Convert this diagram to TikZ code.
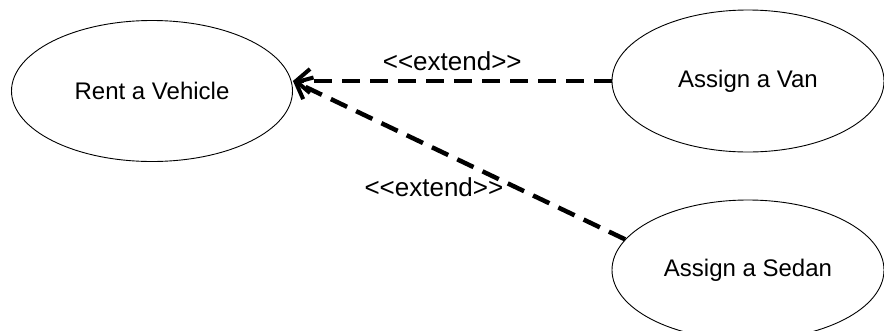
\documentclass[tikz,border=0pt]{standalone}
\usepackage{fontspec}
\setmainfont{Liberation Sans}
\usetikzlibrary{arrows.meta,shapes.geometric}

\begin{document}
\begin{tikzpicture}[x=1pt,y=-1pt,font=\fontsize{24}{28}\selectfont,
  usecase/.style={ellipse,draw,line width=0.9pt,inner sep=0pt},
  extlabel/.style={font=\fontsize{26}{30}\selectfont},
  extend/.style={line width=4.5pt,dash pattern=on 18pt off 10pt,
    -{Straight Barb[length=14pt,width=24pt,line width=4pt]}}]
  \useasboundingbox (0,0) rectangle (884,330);
  \node[usecase,minimum width=281,minimum height=141] (rent) at (152,91) {Rent a Vehicle};
  \node[usecase,minimum width=272,minimum height=142] (van) at (748,81) {Assign a Van};
  \node[usecase,minimum width=272,minimum height=140] (sedan) at (748,270) {Assign a Sedan};
  \coordinate (tip) at (rent.east |- van.west);
  \path[extend]
    (van.west) edge node[extlabel,above,inner sep=8pt] {<{}<extend>{}>} (tip)
    (sedan.166) edge node[extlabel,pos=0.36,anchor=east,inner sep=0pt,yshift=-5pt] {<{}<extend>{}>} (tip);
\end{tikzpicture}
\end{document}
